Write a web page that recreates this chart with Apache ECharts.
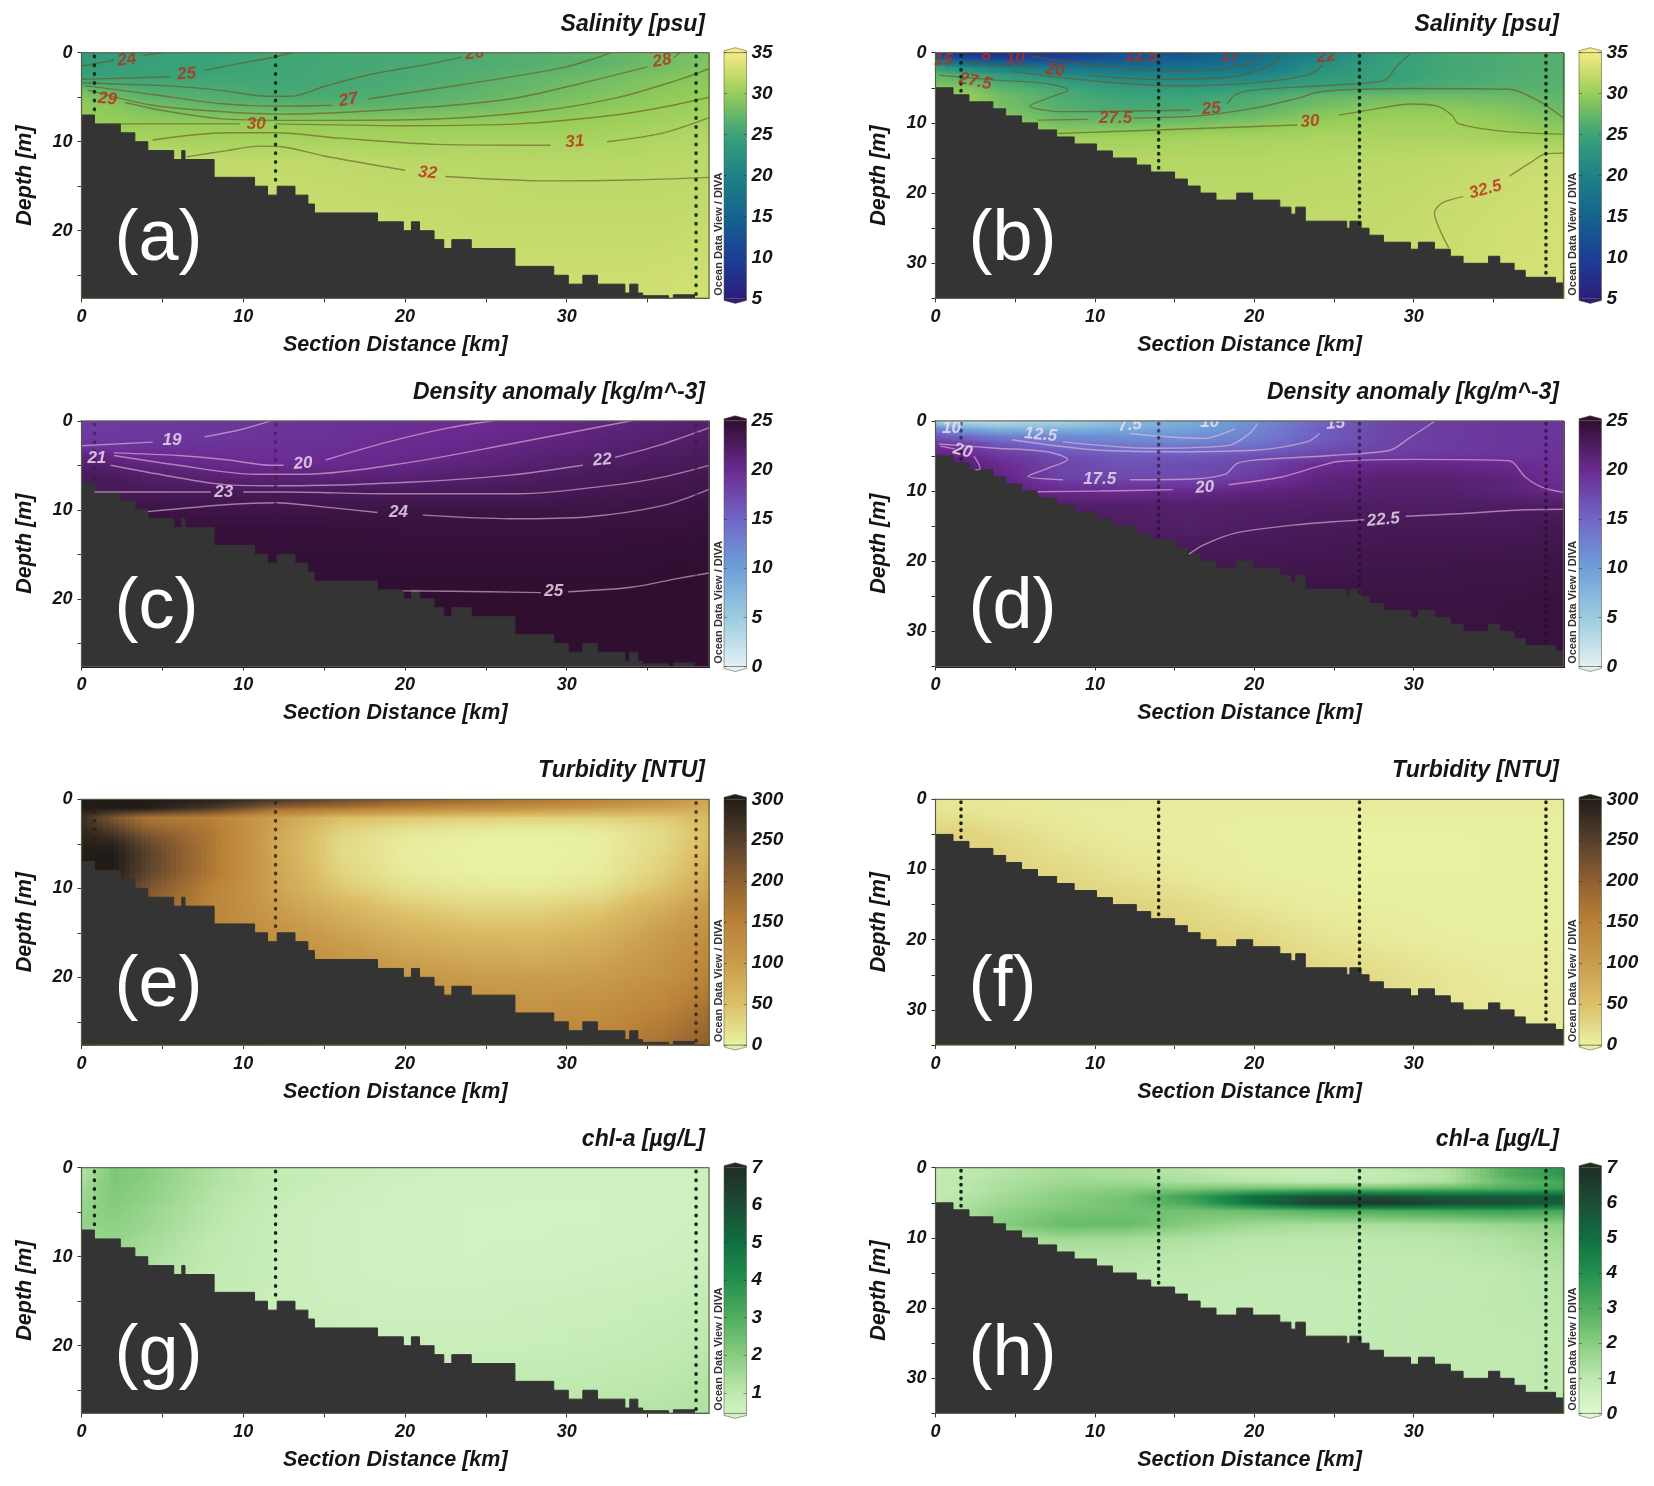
<!DOCTYPE html>
<html>
<head>
<meta charset="utf-8">
<title>Section plots</title>
<script src="https://cdn.jsdelivr.net/npm/echarts@6/dist/echarts.min.js"></script>
<style>
html, body { margin: 0; padding: 0; background: #fff; }
#main { width: 1654px; height: 1486px; filter: blur(0.5px); }
</style>
</head>
<body>
<div id="main"></div>
<script>
// grid nodes of the colour fields
const leftKm = [0, 2, 4, 8, 12, 16, 20, 24, 28, 32, 36, 38.8];
const rightKm = [0, 2, 4, 8, 12, 16, 20, 24, 28, 32, 36, 39.4];
const leftDepth = [0, 1, 2, 3, 4, 5, 6, 8, 10, 12, 15, 20, 27.6];
const rightDepth = [0, 1, 2, 3, 4, 5, 6, 8, 10, 12, 15, 20, 25, 35];

// axis ticks
const kmTicks = [0, 5, 10, 15, 20, 25, 30, 35];
const kmLabels = [0, 10, 20, 30];
const leftDepthTicks = [0, 5, 10, 15, 20, 25];
const leftDepthLabels = [0, 10, 20];
const rightDepthTicks = [0, 5, 10, 15, 20, 25, 30, 35];
const rightDepthLabels = [0, 10, 20, 30];

// sea floor
const leftBedKm = [0, 0.8, 2.4, 3.3, 4.1, 5.7, 6.2, 6.4, 8.2, 10.7, 11.5, 12.1, 13.2, 14, 14.4, 18.3, 19.9, 20.4, 20.9, 21.8, 22.4, 22.9, 23.2, 24.1, 26.8, 29.2, 30.1, 31, 31.9, 33.6, 33.9, 34.4, 34.7, 36.3, 36.6, 37.9, 38.8];
const leftBedDepth = [7, 8, 9, 10, 11, 12, 11, 12, 14, 15, 16, 15, 16, 17, 18, 19, 20, 19, 20, 21, 22, 21, 21, 22, 24, 25, 26, 25, 26, 27, 26, 27, 27.3, 27.6, 27.2, 27.6, 27.6];
const rightBedKm = [0, 1.1, 2.1, 3.6, 4.4, 5.4, 6.4, 7.6, 8.7, 10.1, 11.1, 12.6, 13.5, 15, 15.8, 16.6, 17.6, 18.9, 19.9, 21.6, 22.3, 22.6, 23.2, 25.8, 26, 26.7, 27.2, 28.1, 29.8, 30.3, 31.3, 32.3, 33.1, 34.7, 35.4, 36.3, 37, 38.9, 39.4];
const rightBedDepth = [5, 6, 7, 8, 9, 10, 11, 12, 13, 14, 15, 16, 17, 18, 19, 20, 21, 20, 21, 22, 23, 22, 24, 25, 24, 25, 26, 27, 28, 27, 28, 29, 30, 29, 30, 31, 32, 32.8, 32];

// stations
const leftStationKm = [0.8, 12, 38];
const leftStationEnd = [7, 15, 27.4];
const rightStationKm = [1.6, 14, 26.6, 38.3];
const rightStationEnd = [6, 17, 24.5, 32];

// colour ramps, equal steps between low and high
const salinityRamp = ['#2d1c7c', '#1c3f97', '#15638e', '#1d8287', '#3aa279', '#98ce58', '#f6ea84'];
const densityRamp = ['#e3f1f3', '#9ccbe0', '#6f9fd8', '#7066c6', '#6a2a90', '#2f0e30'];
const turbidityRamp = ['#e9f2a4', '#dcc068', '#c99c4c', '#b98238', '#8f6030', '#55402c', '#211c18'];
const chlRamp = ['#dff9d2', '#bfe9af', '#88cd80', '#52ae5e', '#22904f', '#0f6f40', '#1d4c36', '#1e2d24'];

const salinityTicks = [5, 10, 15, 20, 25, 30, 35];
const densityTicks = [0, 5, 10, 15, 20, 25];
const turbidityTicks = [0, 50, 100, 150, 200, 250, 300];
const chlTicksLeft = [1, 2, 3, 4, 5, 6, 7];
const chlTicksRight = [0, 1, 2, 3, 4, 5, 6, 7];

// one row per depth
const salinityA = [
	[23.5, 24, 24.5, 25, 25.5, 25.5, 25.8, 26, 26.5, 27, 28, 28.5],
	[23.8, 24.2, 24.6, 25, 25.3, 25.6, 25.8, 26, 26.4, 26.9, 27.9, 28.8],
	[24.3, 24.6, 24.8, 25.1, 25.4, 25.6, 25.9, 26.3, 26.8, 27.5, 28.4, 29.1],
	[25, 25.3, 25.3, 25.4, 25.4, 25.6, 25.9, 26.5, 27.3, 28, 28.9, 29.4],
	[27.5, 26.7, 26, 25.9, 25.6, 25.7, 26.2, 26.8, 27.6, 28.4, 29.2, 29.7],
	[29, 28, 27, 26.4, 26, 26, 26.5, 27.2, 28, 28.8, 29.6, 30],
	[29.7, 29.3, 28.3, 27.3, 27, 26.9, 27.1, 27.8, 28.5, 29.3, 30, 30.3],
	[30, 30, 30, 30, 30, 30, 30, 30, 30, 30.3, 30.7, 31],
	[31, 31, 31, 30.8, 30.9, 30.9, 31, 31, 31, 31, 31.4, 31.7],
	[32, 32, 32, 32.1, 32.2, 32, 31.8, 31.7, 31.6, 31.7, 31.8, 31.9],
	[32.3, 32.3, 32.3, 32.4, 32.5, 32.3, 32.1, 32.1, 32, 32, 32, 32.1],
	[32.5, 32.5, 32.5, 32.5, 32.6, 32.6, 32.5, 32.4, 32.4, 32.4, 32.4, 32.5],
	[33, 33, 33, 33, 33, 33, 33, 33, 33, 33, 33.1, 33.2]
];
const salinityB = [
	[8, 7, 7, 8, 12, 13, 16, 20, 24, 25.5, 26, 26.5],
	[18, 14, 12, 12, 14, 15, 17, 21, 24.5, 25.5, 26, 26.5],
	[24, 21, 19, 18, 17, 17, 18, 22, 24.5, 25.5, 26, 26.5],
	[27, 25.5, 23.5, 21, 20, 19.5, 20, 23, 24.5, 25.5, 26.2, 26.5],
	[28, 27.5, 25.5, 24, 22, 21.5, 22, 24, 24.8, 25.8, 26.3, 26.6],
	[29, 29, 27, 25.5, 24, 23.5, 24.5, 25.2, 25.6, 26.2, 26.6, 26.7],
	[30, 30, 28, 26, 25, 25, 25.8, 27, 27.6, 27.8, 27.5, 27],
	[30, 30, 28.5, 26.5, 25.8, 25.8, 26.8, 28.5, 29.5, 29.5, 29, 27.6],
	[31, 31, 30, 28, 28, 28.3, 29, 30, 30.5, 30.5, 29.8, 29],
	[31.5, 31.5, 31, 30.5, 30.5, 30.7, 30.8, 31, 31, 31, 30.5, 30.3],
	[32, 32, 31.8, 31.5, 31.5, 31.5, 31.5, 31.7, 31.8, 32, 32.4, 32.5],
	[32, 32, 32, 31.8, 31.8, 31.8, 31.8, 32, 32.1, 32.4, 32.8, 33],
	[32.2, 32.2, 32.2, 32.2, 32.2, 32.2, 32.2, 32.2, 32.3, 32.6, 33, 33.2],
	[32.3, 32.3, 32.3, 32.3, 32.3, 32.3, 32.3, 32.3, 32.5, 32.8, 33.2, 33.3]
];
const densityC = [
	[18.3, 18.5, 18.7, 18.9, 19.1, 19.4, 19.7, 19.9, 20.3, 20.8, 21.4, 21.8],
	[18.5, 18.6, 18.8, 18.9, 19.2, 19.4, 19.7, 20, 20.4, 21, 21.6, 22],
	[18.8, 18.8, 18.9, 19, 19.3, 19.5, 19.8, 20.2, 20.7, 21.3, 21.9, 22.3],
	[19.3, 19.3, 19.4, 19.4, 19.5, 19.6, 20, 20.5, 21, 21.6, 22.2, 22.5],
	[21, 20.6, 20, 19.8, 19.6, 19.8, 20.2, 20.8, 21.4, 22, 22.5, 22.8],
	[22, 21.7, 21, 20.4, 20, 20.2, 20.7, 21.2, 21.8, 22.4, 22.8, 23],
	[22.6, 22.6, 21.9, 21.3, 21, 21, 21.3, 21.8, 22.3, 22.8, 23.1, 23.3],
	[23, 23, 23, 23, 23, 23, 23, 23, 23, 23.3, 23.5, 23.7],
	[24, 24, 24, 23.7, 23.7, 23.8, 23.9, 23.9, 23.9, 23.9, 24.1, 24.3],
	[24.4, 24.4, 24.4, 24.4, 24.4, 24.4, 24.3, 24.3, 24.3, 24.3, 24.4, 24.5],
	[24.6, 24.6, 24.6, 24.6, 24.6, 24.6, 24.6, 24.6, 24.6, 24.6, 24.7, 24.8],
	[25.1, 25.1, 25.1, 25.1, 25.1, 25.1, 25, 25, 25, 25, 25.1, 25.2],
	[25.4, 25.4, 25.4, 25.4, 25.4, 25.4, 25.4, 25.4, 25.4, 25.4, 25.4, 25.4]
];
const densityD = [
	[4, 2.5, 3, 4, 7, 8.5, 11.5, 15, 17.5, 18.5, 19, 19],
	[12, 9, 7, 7.5, 8.5, 9.5, 12, 15.5, 17.7, 18.5, 19, 19],
	[16, 14, 12.5, 11.5, 11, 11, 12.5, 15.5, 17.7, 18.5, 19, 19],
	[18.5, 17.5, 15.5, 13.5, 12.5, 12.5, 13.5, 16, 17.7, 18.5, 19, 19.2],
	[20, 19.5, 17.5, 15.5, 14.5, 14.5, 15, 17, 17.9, 18.6, 19, 19.2],
	[21, 20.5, 19, 17, 16, 16, 17, 17.8, 18.5, 19, 19.2, 19.3],
	[22, 21.5, 20, 17.5, 16.5, 17, 17.5, 19.8, 20.2, 20.3, 20, 19.4],
	[22, 22, 20.8, 17.8, 17.3, 17.3, 18.5, 20.8, 21.5, 21.5, 21, 19.5],
	[22.5, 22.5, 21.5, 20.3, 20, 20.2, 21, 21.5, 21.8, 21.9, 21.3, 20.3],
	[23, 23, 22.5, 22, 22, 22, 22, 22.2, 22.3, 22.3, 22.4, 22.3],
	[23.5, 23.5, 23, 22.7, 22.3, 22, 22.5, 22.8, 23, 23, 23, 23.2],
	[23.5, 23.5, 23.5, 23.5, 23.5, 23.3, 23.3, 23.4, 23.5, 23.6, 23.7, 23.8],
	[24, 24, 24, 24, 24, 24, 24, 24, 24, 24, 24.1, 24.2],
	[24.3, 24.3, 24.3, 24.3, 24.3, 24.3, 24.3, 24.3, 24.3, 24.3, 24.3, 24.3]
];
const turbidityE = [
	[300, 300, 300, 295, 270, 240, 210, 190, 170, 150, 120, 90],
	[300, 300, 300, 260, 190, 165, 140, 125, 115, 100, 85, 75],
	[275, 215, 170, 150, 95, 55, 45, 38, 34, 34, 42, 60],
	[280, 240, 190, 160, 90, 38, 22, 15, 12, 14, 30, 55],
	[290, 270, 220, 165, 85, 28, 10, 4, 2, 5, 25, 55],
	[295, 290, 240, 165, 82, 25, 6, 2, 1, 4, 25, 58],
	[300, 300, 250, 165, 85, 25, 6, 1, 1, 4, 28, 62],
	[300, 300, 245, 165, 88, 30, 8, 2, 1, 6, 35, 72],
	[290, 280, 220, 150, 90, 42, 18, 10, 8, 16, 48, 85],
	[280, 255, 200, 145, 100, 65, 40, 28, 28, 40, 75, 105],
	[260, 235, 185, 150, 120, 92, 70, 58, 55, 68, 100, 125],
	[240, 215, 185, 160, 145, 128, 112, 102, 98, 102, 122, 148],
	[220, 205, 185, 175, 170, 165, 160, 150, 145, 150, 175, 205]
];
const turbidityF = [
	[10, 10, 10, 8, 8, 8, 8, 8, 8, 8, 8, 8],
	[12, 12, 10, 8, 7, 6, 6, 6, 6, 6, 6, 6],
	[15, 14, 12, 8, 6, 5, 5, 4, 4, 4, 4, 5],
	[20, 20, 15, 9, 6, 5, 4, 3, 3, 3, 3, 4],
	[25, 28, 20, 10, 6, 5, 4, 3, 3, 3, 3, 4],
	[30, 32, 25, 12, 7, 5, 4, 3, 2, 2, 3, 4],
	[30, 32, 28, 14, 8, 5, 4, 3, 2, 2, 3, 4],
	[30, 30, 30, 20, 10, 6, 4, 3, 2, 2, 3, 4],
	[30, 30, 30, 25, 14, 8, 4, 3, 2, 2, 3, 4],
	[30, 30, 30, 30, 22, 12, 6, 4, 3, 3, 3, 4],
	[32, 32, 32, 32, 32, 24, 12, 6, 4, 3, 3, 4],
	[35, 35, 35, 35, 35, 35, 30, 16, 9, 5, 4, 5],
	[35, 35, 35, 35, 35, 35, 35, 30, 22, 12, 7, 7],
	[35, 35, 35, 35, 35, 35, 35, 32, 25, 18, 12, 10]
];
const chlG = [
	[1.2, 2.2, 2, 1.3, 0.85, 0.7, 0.55, 0.5, 0.5, 0.5, 0.5, 0.55],
	[1.3, 2.2, 2, 1.3, 0.85, 0.7, 0.55, 0.5, 0.5, 0.5, 0.5, 0.55],
	[1.5, 2.2, 1.9, 1.3, 0.85, 0.65, 0.5, 0.48, 0.48, 0.48, 0.5, 0.55],
	[1.6, 2.1, 1.9, 1.2, 0.8, 0.6, 0.5, 0.48, 0.45, 0.45, 0.5, 0.55],
	[1.7, 2.1, 1.8, 1.2, 0.75, 0.6, 0.5, 0.45, 0.45, 0.45, 0.5, 0.55],
	[1.8, 2, 1.7, 1.1, 0.75, 0.55, 0.48, 0.45, 0.45, 0.45, 0.5, 0.55],
	[1.8, 1.9, 1.7, 1.1, 0.7, 0.55, 0.48, 0.45, 0.45, 0.45, 0.5, 0.55],
	[1.7, 1.8, 1.5, 1, 0.7, 0.55, 0.48, 0.45, 0.45, 0.48, 0.52, 0.6],
	[1.6, 1.6, 1.4, 0.95, 0.7, 0.55, 0.48, 0.45, 0.48, 0.5, 0.55, 0.65],
	[1.4, 1.4, 1.3, 0.9, 0.7, 0.55, 0.5, 0.5, 0.5, 0.55, 0.62, 0.72],
	[1.2, 1.2, 1.1, 0.85, 0.7, 0.6, 0.55, 0.55, 0.6, 0.65, 0.72, 0.85],
	[1.1, 1.1, 1, 0.85, 0.75, 0.7, 0.7, 0.7, 0.72, 0.78, 0.9, 1.05],
	[1, 1, 1, 1, 1, 1, 1, 1.05, 1.1, 1.15, 1.2, 1.3]
];
const chlH = [
	[0.9, 1, 1.1, 1.4, 1.3, 1.1, 0.8, 0.8, 1, 1.3, 3, 3.8],
	[0.9, 1, 1.2, 1.5, 1.4, 1.2, 0.9, 0.8, 0.9, 1.2, 3, 3.8],
	[0.9, 1.1, 1.3, 1.6, 1.6, 1.4, 1.2, 1, 1, 1.4, 2.6, 3.2],
	[0.9, 1.1, 1.3, 1.8, 2, 2.3, 2.6, 2.8, 2.8, 3, 3.2, 3.5],
	[0.9, 1.2, 1.5, 2, 2.3, 3.5, 5, 5.8, 6, 5.6, 5.6, 5.6],
	[1, 1.3, 1.6, 2, 2.4, 3.2, 5, 6.5, 6.8, 6.2, 6, 5.5],
	[1, 1.4, 1.8, 2.2, 2.4, 2.4, 2.6, 3, 3.2, 3.4, 3.6, 3.3],
	[1, 1.4, 2, 2.6, 2.6, 2, 1.6, 1.4, 1.4, 1.5, 1.7, 1.9],
	[1, 1.2, 1.4, 1.6, 1.5, 1.3, 1.1, 1.05, 1.05, 1.1, 1.3, 1.6],
	[1, 1.1, 1.2, 1.2, 1.2, 1.1, 1, 1, 1, 1.05, 1.2, 1.4],
	[1, 1, 1, 1, 1, 0.95, 0.9, 0.9, 0.9, 0.9, 1, 1.2],
	[0.9, 0.95, 0.9, 0.9, 0.85, 0.85, 0.85, 0.85, 0.9, 0.95, 1, 1.1],
	[0.9, 0.9, 0.9, 0.9, 0.9, 0.9, 0.9, 0.9, 0.9, 0.95, 0.95, 1],
	[0.9, 0.9, 0.9, 0.9, 0.9, 0.9, 0.9, 0.9, 0.9, 0.95, 0.95, 1]
];

// isolines, a gap is where the label sits
const GAP = ['-', '-'];
const contoursA = [
	[[0, 1.5], [2, 0.85], GAP, [3.8, 0.3], [5, 0]],
	[[0, 3], [5.5, 2.7], GAP, [7.6, 2], [9.8, 1.2], [12, 0.45], [13, 0]],
	[[0, 3.4], [5, 3.7], [8.5, 4.2], [11.5, 4.9], [13, 4.9], [15, 3.8], [17.7, 2.5], [21.7, 1.2], [23.5, 0.5], GAP, [25, 0]],
	[[0.2, 3.7], [4.4, 4.7], [8.5, 5.7], [12, 6], [15.5, 5.9], GAP, [17.7, 5.2], [23.5, 3.6], [29.7, 1.7], [32, 0.5], [32.7, 0]],
	[[0.4, 4.2], [4.4, 5.9], [8.5, 6.6], [12.6, 6.9], [20, 6.3], [26.5, 5.2], [31, 3.4], [35, 1.6], GAP, [36.6, 0.6], [37, 0]],
	[[0.8, 4.6], GAP, [2.7, 5.6], [5, 6.5], [8.5, 7.4], [13, 7.6], [21, 7.5], [28, 6.6], [33, 5.1], [37, 3], [38.8, 1.8]],
	[[1.6, 8], [9.8, 8], GAP, [12, 8], [20, 8.2], [27, 8], [33, 7], [36, 6.1], [38.8, 5]],
	[[4.4, 9.8], [9, 9], [12, 9], [16, 9.6], [22, 10.3], [29, 10.4], GAP, [32.5, 10], [36, 9], [38.8, 7.3]],
	[[6.5, 11.7], [9, 11], [11, 10.5], [12.5, 10.6], [15, 11.6], [20, 13.2], GAP, [22.5, 13.9], [29, 14.4], [34, 14.3], [38.8, 14]]
];
const contoursB = [
	[[32.2, 27.8], [31.6, 25], [31.3, 22.8], [31.8, 21.4], [33.1, 20.5], GAP, [36, 17.6], [37.3, 15.7], [38.3, 14.4], [39.4, 14.3]],
	[[7.7, 11.5], [10.3, 11.3], [22.7, 10.3], GAP, [25.3, 8.9], [27.9, 7.9], [29.8, 7.3], [31.5, 7.6], [32.4, 8.9], [32.8, 10.1], [35.7, 11.2], [39.4, 11.6]],
	[[6.4, 9.6], [9.6, 9.5], GAP, [12.4, 9.3], [16.5, 9], [20, 7.9], [22.7, 6.5], [24.3, 5.5], [29.8, 5.1], [36, 5.2], [37.7, 6.7], [39.4, 9.3]],
	[[0.2, 3.2], [3.8, 3.9], [7, 4.4], [8.3, 5.3], [7, 6.5], [5.9, 7.6], [8, 8.4], [16, 8.2], GAP, [18.3, 7.3], [18.8, 6], [20, 5.3], [25, 4.6], [28.2, 3.9], [28.9, 2], [29.8, 0.1]],
	[[4.8, 2.7], [10.3, 4.1], [15.2, 4.7], [20, 4.3], [23.3, 3.2], [24.3, 1.8]],
	[[2, 1.5], [6.4, 2], GAP, [9.6, 3.2], [13.5, 3.8], [18.4, 3.5], [21, 1.8], [21.7, 0.3]],
	[[6, 0.5], [10, 1.8], [15, 2.6], [18.5, 2.2], [20.5, 0.6]]
];
const contoursC = [
	[[0, 2.8], [4.4, 2.4], GAP, [7.6, 1.8], [9.8, 1], [11.7, 0]],
	[[2, 3.6], [6, 3.9], [9.1, 4.4], [11.7, 5], [12.5, 5], GAP, [15.1, 4.4], [18.9, 2.4], [22.7, 0.8], [25.5, 0]],
	[[2, 3.9], [6, 5], [10.7, 6], [13.9, 6], [20.2, 4.7], [26.5, 2.6], [34, 0]],
	[[1.8, 5], [6, 6.4], [9.1, 7.2], [12.6, 7.3], [20.2, 6.9], [26.5, 6.1], [31, 5], GAP, [33, 4.1], [35.8, 2.7], [38.8, 0.8]],
	[[0.8, 8], [8, 8], GAP, [10, 8], [12.7, 8], [18.9, 8.2], [27, 8.2], [33, 7.2], [36, 6.3], [38.8, 5]],
	[[4.1, 10.2], [9.1, 9.4], [12, 9.2], [15.1, 9.7], [18.3, 10.3], GAP, [21.1, 10.6], [26.5, 11], [31.2, 10.8], [36, 9.5], [38.8, 7.7]],
	[[19.9, 19.1], [25.2, 19.2], [28.4, 19.3], GAP, [30.1, 19.2], [34, 18.7], [36.9, 17.7], [38.8, 17.1]]
];
const contoursD = [
	[[15.9, 19], [16.8, 17.7], [18.8, 16], [22.7, 14.8], [26.9, 14.1], GAP, [29.5, 13.6], [33.1, 13.2], [36.7, 12.7], [39.4, 12.6]],
	[[6.4, 10.1], [10.3, 10], [14.9, 9.8], GAP, [18.4, 9.1], [21.7, 8], [24, 6.5], [25.3, 5.8], [29.8, 5.5], [36, 5.7], [37, 8], [38, 9.4], [39.4, 10.2]],
	[[0.2, 3.3], [3.8, 3.9], [7, 4.4], [8.3, 5.5], [7, 6.8], [5.8, 7.9], [8, 8.4], GAP, [12.2, 8.4], [16.1, 8.3], [18.2, 7.6], [18.9, 6.1], [20, 5.6], [25, 4.9], [28.5, 4.2], [29.7, 2.5], [31.3, 0.1]],
	[[4.8, 2.7], [10.3, 4.2], [15.2, 4.4], [20, 4.2], [23.3, 3], [24.1, 1.8]],
	[[8, 3], [13.5, 3.9], [18.4, 3.5], [19.7, 1.8], [20.2, 0.4]],
	[[12.2, 1.8], [16.8, 2.5], [18.8, 1.1]],
	[[0.3, 3.6], [1.2, 4], GAP, [2.4, 5], [2.8, 6.8], [2.5, 7]]
];

// isoline labels: km, depth, text, rotation
const labelsA = [[2.8, 0.8, '24', 8], [6.5, 2.4, '25', 5], [24.3, 0.1, '26', 8], [16.5, 5.3, '27', 10], [35.9, 0.9, '28', 10], [1.6, 5.2, '29', -5], [10.8, 8, '30', 0], [30.5, 10, '31', 5], [21.4, 13.5, '32', -5]];
const labelsB = [[0.5, 1.1, '15', 0], [3.2, 0.4, '8', 0], [5, 0.8, '10', 0], [12.9, 0.5, '12.5', 0], [18.5, 0.5, '17', 0], [24.5, 0.6, '22', 5], [7.5, 2.5, '20', -5], [2.5, 4.1, '27.5', -12], [11.3, 9.4, '27.5', 0], [17.3, 8, '25', 5], [23.5, 9.8, '30', 5], [34.5, 19.5, '32.5', 15]];
const labelsC = [[5.6, 2.2, '19', 0], [13.7, 4.8, '20', 5], [0.95, 4.2, '21', 0], [32.2, 4.4, '22', 5], [8.8, 8, '23', 0], [19.6, 10.3, '24', 0], [29.2, 19.2, '25', 0]];
const labelsD = [[1, 1, '10', 0], [6.6, 2, '12.5', -5], [12.2, 0.6, '7.5', 5], [17.2, 0.2, '10', 0], [25.1, 0.4, '15', 5], [1.7, 4.3, '20', -15], [10.3, 8.4, '17.5', 0], [16.9, 9.5, '20', 5], [28.1, 14.1, '22.5', 5]];

const panelTitles = ['Salinity [psu]', 'Salinity [psu]', 'Density anomaly [kg/m^-3]', 'Density anomaly [kg/m^-3]', 'Turbidity [NTU]', 'Turbidity [NTU]', 'chl-a [µg/L]', 'chl-a [µg/L]'];
const panelTags = ['(a)', '(b)', '(c)', '(d)', '(e)', '(f)', '(g)', '(h)'];
const panelFields = [salinityA, salinityB, densityC, densityD, turbidityE, turbidityF, chlG, chlH];
const panelRamps = [salinityRamp, salinityRamp, densityRamp, densityRamp, turbidityRamp, turbidityRamp, chlRamp, chlRamp];
const panelLow = [5, 5, 0, 0, 0, 0, 0.45, 0];
const panelHigh = [35, 35, 25, 25, 300, 300, 7, 7];
const rampLow = [5, 5, 0, 0, 0, 0, 0, 0];
const panelTicks = [salinityTicks, salinityTicks, densityTicks, densityTicks, turbidityTicks, turbidityTicks, chlTicksLeft, chlTicksRight];
const panelContours = [contoursA, contoursB, contoursC, contoursD, [], [], [], []];
const panelLabels = [labelsA, labelsB, labelsC, labelsD, [], [], [], []];
const stationColors = ['rgba(0,40,20,.9)', 'rgba(0,30,20,.9)', 'rgba(60,20,70,.55)', 'rgba(30,10,40,.6)', 'rgba(50,30,10,.8)', 'rgba(20,25,5,.95)', 'rgba(5,30,15,.95)', 'rgba(5,30,15,.95)'];

const rowTops = [52.7, 420.8, 799.3, 1167.7];
const plotH = 245.7;
const font = '"Liberation Sans", Arial, sans-serif';

const chart = echarts.init(document.getElementById('main'));

function fieldSeries(k, km, depth) {
	const table = panelFields[k];
	const ramp = panelRamps[k];
	const lo = rampLow[k];
	const hi = panelHigh[k];
	const cells = [];
	for (let j = 0; j < depth.length - 1; j++) {
		for (let i = 0; i < km.length - 1; i++) {
			cells.push([km[i], km[i + 1], depth[j], depth[j + 1], table[j][i], table[j][i + 1], table[j + 1][i], table[j + 1][i + 1]]);
		}
	}
	const tint = v => echarts.color.lerp(Math.min(1, Math.max(0, (v - lo) / (hi - lo))), ramp);
	return {
		type: 'custom',
		xAxisIndex: k,
		yAxisIndex: k,
		z: 1,
		silent: true,
		data: cells,
		encode: { x: [0, 1], y: [2, 3] },
		renderItem: function(params, api) {
			const a = api.coord([api.value(0), api.value(2)]);
			const b = api.coord([api.value(1), api.value(3)]);
			const x0 = Math.round(a[0]), x1 = Math.round(b[0]);
			const y0 = Math.round(a[1]), y1 = Math.round(b[1]);
			const n = Math.max(1, Math.round((x1 - x0) / 5));
			const children = [];
			// shade the cell between its four corners
			for (let s = 0; s < n; s++) {
				const t = (s + 0.5) / n;
				const top = api.value(4) + (api.value(5) - api.value(4)) * t;
				const bot = api.value(6) + (api.value(7) - api.value(6)) * t;
				const stops = [];
				for (let q = 0; q <= 4; q++) {
					stops.push({ offset: q / 4, color: tint(top + (bot - top) * q / 4) });
				}
				const xa = x0 + Math.round((x1 - x0) * s / n);
				const xb = x0 + Math.round((x1 - x0) * (s + 1) / n);
				children.push({
					type: 'rect',
					shape: { x: xa, y: y0, width: xb - xa + 1, height: y1 - y0 + 1 },
					style: { fill: new echarts.graphic.LinearGradient(0, 0, 0, 1, stops) }
				});
			}
			return { type: 'group', children: children };
		}
	};
}

function barSeries(k) {
	const ramp = panelRamps[k];
	const lo = panelLow[k];
	const hi = panelHigh[k];
	const base = rampLow[k];
	const stops = [];
	for (let q = 0; q <= 20; q++) {
		const v = hi - (hi - lo) * q / 20;
		stops.push({ offset: q / 20, color: echarts.color.lerp((v - base) / (hi - base), ramp) });
	}
	return {
		type: 'custom',
		xAxisIndex: k + 8,
		yAxisIndex: k + 8,
		silent: true,
		z: 2,
		data: [[0, lo, 1, hi]],
		encode: { x: [0, 2], y: [1, 3] },
		renderItem: function(params, api) {
			const a = api.coord([0, hi]);
			const b = api.coord([1, lo]);
			const mid = (a[0] + b[0]) / 2;
			const edge = { stroke: 'rgba(90,90,70,.55)', lineWidth: 1 };
			return {
				type: 'group',
				children: [{
					type: 'polygon',
					shape: { points: [[a[0], a[1]], [a[0], a[1] - 2], [mid, a[1] - 5], [b[0], a[1] - 2], [b[0], a[1]]] },
					style: Object.assign({ fill: stops[0].color }, edge)
				}, {
					type: 'polygon',
					shape: { points: [[a[0], b[1]], [a[0], b[1] + 2], [mid, b[1] + 5], [b[0], b[1] + 2], [b[0], b[1]]] },
					style: Object.assign({ fill: stops[20].color }, edge)
				}, {
					type: 'rect',
					shape: { x: a[0], y: a[1], width: b[0] - a[0], height: b[1] - a[1] },
					style: Object.assign({ fill: new echarts.graphic.LinearGradient(0, 0, 0, 1, stops) }, edge)
				}]
			};
		}
	};
}

const grids = [], xAxes = [], yAxes = [], titles = [], series = [], graphics = [];
const boldItalic = { color: '#151515', fontFamily: font, fontWeight: 'bold', fontStyle: 'italic' };
const tickText = Object.assign({ fontSize: 18 }, boldItalic);
const barText = Object.assign({ fontSize: 19 }, boldItalic);
const nameText = Object.assign({ fontSize: 21.5 }, boldItalic);

for (let k = 0; k < 8; k++) {
	const isRight = k % 2 === 1;
	const top = rowTops[Math.floor(k / 2)];
	const left = isRight ? 935.5 : 81.5;
	const width = isRight ? 628 : 627.5;
	const km = isRight ? rightKm : leftKm;
	const depth = isRight ? rightDepth : leftDepth;
	const xMax = km[km.length - 1];
	const yMax = depth[depth.length - 1];

	grids.push({ left: left, top: top, width: width, height: plotH });
	xAxes.push({
		type: 'value', gridIndex: k, min: 0, max: xMax,
		position: 'bottom', splitLine: { show: false },
		axisLine: { onZero: false, lineStyle: { color: '#333' } },
		axisTick: { length: 4, lineStyle: { color: '#333' }, customValues: kmTicks },
		axisLabel: Object.assign({ margin: 10, customValues: kmLabels }, tickText),
		name: 'Section Distance [km]', nameLocation: 'middle', nameGap: 36,
		nameTextStyle: nameText
	});
	yAxes.push({
		type: 'value', gridIndex: k, min: 0, max: yMax, inverse: true,
		splitLine: { show: false },
		axisLine: { onZero: false, lineStyle: { color: '#333' } },
		axisTick: { length: 4, lineStyle: { color: '#333' }, customValues: isRight ? rightDepthTicks : leftDepthTicks },
		axisLabel: Object.assign({ margin: 9, customValues: isRight ? rightDepthLabels : leftDepthLabels }, tickText),
		name: 'Depth [m]', nameLocation: 'middle', nameGap: 45,
		nameTextStyle: nameText
	});

	titles.push({
		text: panelTitles[k],
		right: isRight ? 95 : 949,
		top: top - 40,
		padding: 0,
		textStyle: Object.assign({ fontSize: 23 }, boldItalic)
	});

	series.push(fieldSeries(k, km, depth));

	const bedKm = isRight ? rightBedKm : leftBedKm;
	const bedDepth = isRight ? rightBedDepth : leftBedDepth;
	series.push({
		type: 'line', xAxisIndex: k, yAxisIndex: k, z: 2, silent: true,
		step: 'end', showSymbol: false,
		data: bedKm.map((x, i) => [x, bedDepth[i]]),
		lineStyle: { color: '#343434', width: 1 },
		areaStyle: { color: '#343434', opacity: 1, origin: 'end' }
	});

	const tone = k < 2 ? 'rgba(105,85,35,.62)' : 'rgba(235,190,225,.6)';
	panelContours[k].forEach(line => {
		series.push({
			type: 'line', xAxisIndex: k, yAxisIndex: k, z: 3, silent: true,
			smooth: 0.3, showSymbol: false, data: line,
			lineStyle: { color: tone, width: 1.4 }
		});
	});

	const stationKm = isRight ? rightStationKm : leftStationKm;
	const stationEnd = isRight ? rightStationEnd : leftStationEnd;
	stationKm.forEach((x, i) => {
		series.push({
			type: 'line', xAxisIndex: k, yAxisIndex: k, z: 4, silent: true,
			showSymbol: false, data: [[x, 0.4], [x, stationEnd[i]]],
			lineStyle: { color: stationColors[k], width: 3.5, cap: 'round', type: [0.5, isRight ? 6.5 : 8.3] }
		});
	});

	if (panelLabels[k].length) {
		series.push({
			type: 'scatter', xAxisIndex: k, yAxisIndex: k, z: 5, silent: true,
			symbolSize: 0,
			data: panelLabels[k].map(p => ({
				value: [p[0], p[1]],
				label: { formatter: p[2], rotate: p[3] }
			})),
			label: {
				show: true, position: 'inside',
				color: k < 2 ? '#b92c18' : '#f2e2f2',
				fontFamily: font, fontWeight: 'bold', fontStyle: 'italic', fontSize: 17
			}
		});
	}

	// plot frame, the clip band above it and the panel tag
	graphics.push({
		type: 'rect', z: 30, silent: true,
		shape: { x: left, y: top - 13, width: width, height: 12.5 },
		style: { fill: '#fff' }
	});
	graphics.push({
		type: 'rect', z: 31, silent: true,
		shape: { x: left, y: top, width: width, height: plotH },
		style: { fill: 'none', stroke: 'rgba(90,95,70,.9)', lineWidth: 1.2 }
	});
	graphics.push({
		type: 'text', z: 32, silent: true,
		x: left + 33,
		y: top + 187,
		style: { text: panelTags[k], fill: '#fff', fontFamily: font, fontSize: 72, textVerticalAlign: 'middle' }
	});
	graphics.push({
		type: 'text', z: 32, silent: true,
		x: isRight ? 1573 : 719,
		y: top + 243,
		rotation: Math.PI / 2,
		style: { text: 'Ocean Data View / DIVA', fill: '#333', fontFamily: font, fontWeight: 'bold', fontSize: 11, textVerticalAlign: 'middle' }
	});
}

// colour bars, indices 8 to 15
for (let k = 0; k < 8; k++) {
	const top = rowTops[Math.floor(k / 2)];
	grids.push({ left: k % 2 === 1 ? 1579 : 724, top: top, width: 22.5, height: plotH });
	xAxes.push({ type: 'value', gridIndex: k + 8, min: 0, max: 1, show: false });
	yAxes.push({
		type: 'value', gridIndex: k + 8, min: panelLow[k], max: panelHigh[k], position: 'right', z: 5,
		axisLine: { show: false },
		axisTick: { show: false, customValues: panelTicks[k] },
		splitLine: { show: true, lineStyle: { color: 'rgba(40,40,30,.45)', width: 1, type: [3, 16.5, 3, 0] } },
		axisLabel: Object.assign({ margin: 5, customValues: panelTicks[k] }, barText)
	});
	series.push(barSeries(k));
}

chart.setOption({
	animation: false,
	title: titles,
	grid: grids,
	xAxis: xAxes,
	yAxis: yAxes,
	series: series,
	graphic: graphics
});
</script>
</body>
</html>
